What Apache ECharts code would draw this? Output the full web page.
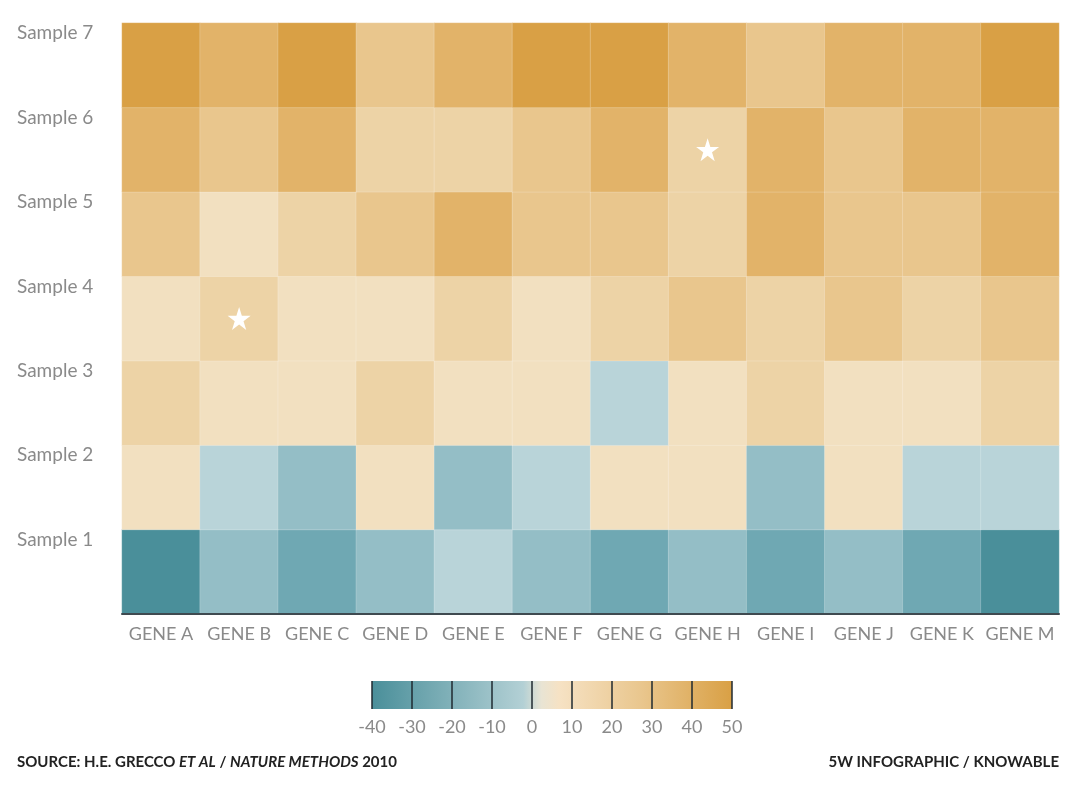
<!DOCTYPE html>
<html><head><meta charset="utf-8">
<script src="https://cdn.jsdelivr.net/npm/echarts@6/dist/echarts.min.js"></script>
<style>html,body{margin:0;padding:0;background:#fff}#c{width:1080px;height:790px}</style>
</head><body><div id="c"></div>
<script>
const genes = ['GENE A','GENE B','GENE C','GENE D','GENE E','GENE F','GENE G','GENE H','GENE I','GENE J','GENE K','GENE M'];
const samples = ['Sample 1','Sample 2','Sample 3','Sample 4','Sample 5','Sample 6','Sample 7'];
// values per sample (row), one per gene
const sample1 = [-35,-15,-25,-15,-5,-15,-25,-15,-25,-15,-25,-35];
const sample2 = [5,-5,-15,5,-15,-5,5,5,-15,5,-5,-5];
const sample3 = [15,5,5,15,5,5,-5,5,15,5,5,15];
const sample4 = [5,15,5,5,15,5,15,25,15,25,15,25];
const sample5 = [25,5,15,25,35,25,25,15,35,25,25,35];
const sample6 = [35,25,35,15,15,25,35,15,35,25,35,35];
const sample7 = [45,35,45,25,35,45,45,35,25,35,35,45];
const starGenes = ['GENE B','GENE H'];
const starSamples = ['Sample 4','Sample 6'];
const legendTicks = [-40,-30,-20,-10,0,10,20,30,40,50];

const rows = [sample1,sample2,sample3,sample4,sample5,sample6,sample7];
const heatData = [];
rows.forEach((r,yi)=>r.forEach((v,xi)=>heatData.push([xi,yi,v])));
const starData = starGenes.map((g,i)=>[g, starSamples[i]]);

const pieceColors = ['#4A8F9A','#6FA8B3','#94BEC6','#B9D4D9','#F2E0C0','#EDD3A6','#E9C68D','#E2B369','#D9A045'];
const pieces = pieceColors.map((c,i)=>({gte:legendTicks[i], lt:legendTicks[i+1], color:c}));

const chart = echarts.init(document.getElementById('c'));
const font = 'Lato, "Open Sans", sans-serif';

// legend graphic
const lgLeft = 372, lgW = 360, lgTop = 681, lgH = 28;
const step = lgW/(legendTicks.length-1);
const g = [{
  type:'rect', shape:{x:lgLeft,y:lgTop,width:lgW,height:lgH},
  style:{fill:new echarts.graphic.LinearGradient(0,0,1,0,[
    {offset:0,color:'#4A8F9A'},{offset:0.42,color:'#B3D0D5'},{offset:0.47,color:'#E8E4D4'},
    {offset:0.52,color:'#F6E2C4'},{offset:0.75,color:'#E9C68D'},{offset:1,color:'#D9A045'}])}
}];
legendTicks.forEach((t,i)=>{
  const x = lgLeft + i*step;
  g.push({type:'line', shape:{x1:x,y1:lgTop,x2:x,y2:lgTop+lgH}, style:{stroke:'#1f2a30',lineWidth:1.5}});
  g.push({type:'text', x:x, y:lgTop+lgH+9, style:{text:String(t), font:'18px '+font, fill:'#8a8a8a', textAlign:'center', textVerticalAlign:'top'}});
});
g.push({type:'text', left:17, top:755, style:{
  rich:{b:{font:'bold 15px '+font, fill:'#222'}, i:{font:'italic bold 15px '+font, fill:'#222'}},
  text:'{b|SOURCE: H.E. GRECCO }{i|ET AL}{b| / }{i|NATURE METHODS}{b| 2010}'}});
g.push({type:'text', right:21, top:755, style:{text:'5W INFOGRAPHIC / KNOWABLE', font:'bold 15px '+font, fill:'#222'}});

chart.setOption({
  backgroundColor:'#fff',
  animation:false,
  grid:{left:122,right:21,top:23,bottom:176},
  xAxis:{type:'category', data:genes, axisTick:{show:false},
    axisLine:{show:true, lineStyle:{color:'#3f4a50', width:2}}, z:10,
    axisLabel:{interval:0, color:'#8a8a8a', fontSize:18, fontFamily:font, margin:11}},
  yAxis:{type:'category', data:samples, axisTick:{show:false}, axisLine:{show:false},
    axisLabel:{align:'left', margin:105, formatter:'{a|{value}}',
      rich:{a:{color:'#8a8a8a', fontSize:19, fontFamily:font, padding:[0,0,64,0]}}}},
  visualMap:{type:'piecewise', show:false, seriesIndex:0, pieces:pieces, dimension:2},
  series:[
    {type:'heatmap', data:heatData, itemStyle:{borderColor:'rgba(255,255,255,0.2)', borderWidth:1}},
    {type:'scatter', data:starData, symbol:'path://M50,0 L61.2,34.5 L97.6,34.5 L68.2,55.9 L79.4,90.5 L50,69.1 L20.6,90.5 L31.8,55.9 L2.4,34.5 L38.8,34.5 Z',
      symbolSize:23, itemStyle:{color:'#ffffff', opacity:1}, z:5}
  ],
  graphic:g
});
</script></body></html>
